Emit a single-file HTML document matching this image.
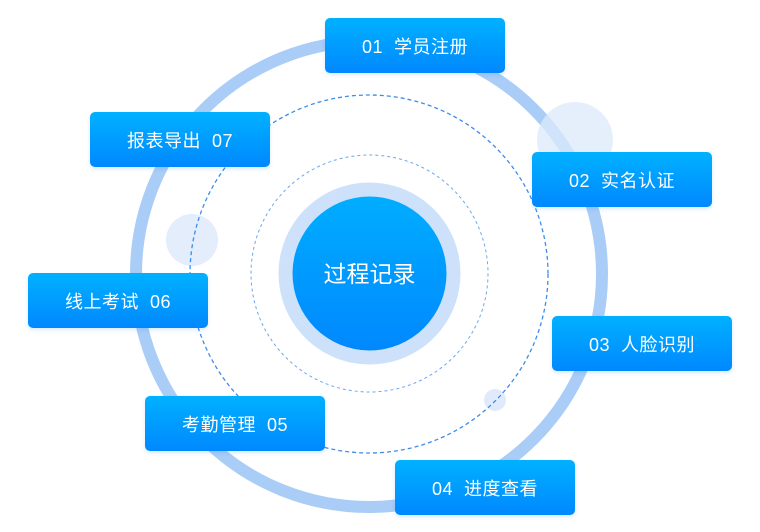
<!DOCTYPE html>
<html><head><meta charset="utf-8"><style>
body{margin:0;width:760px;height:532px;background:#fff;position:relative;overflow:hidden;font-family:"Liberation Sans","Noto Sans CJK SC",sans-serif}
.b{position:absolute;width:180px;height:55px;border-radius:5px;background:linear-gradient(#00b1ff,#0088ff);color:#fff;font-size:18px;display:flex;align-items:center;justify-content:center;letter-spacing:0.5px;box-shadow:0 2px 4px rgba(0,120,255,0.15)}
svg{position:absolute;left:0;top:0}
</style></head><body>
<svg width="760" height="532">
<circle cx="369" cy="274" r="233" fill="none" stroke="#a9cdf6" stroke-width="12"/>
<circle cx="575" cy="140" r="38" fill="#dce9fb" opacity="0.75"/>
<circle cx="192" cy="240" r="26" fill="#dce9fb" opacity="0.8"/>
<circle cx="495" cy="400" r="11" fill="#dce9fb" opacity="0.9"/>
<circle cx="369" cy="274" r="179" fill="none" stroke="#3d8cec" stroke-width="1.3" stroke-dasharray="4 3"/>
<circle cx="369.5" cy="273.5" r="118.5" fill="none" stroke="#6aa8f0" stroke-width="1" stroke-dasharray="3 3"/>
<circle cx="369.5" cy="273.5" r="91" fill="#cde2fa"/>
<defs><linearGradient id="g" x1="0" y1="0" x2="0" y2="1"><stop offset="0" stop-color="#00adff"/><stop offset="1" stop-color="#0088ff"/></linearGradient></defs>
<circle cx="369.5" cy="273.5" r="77" fill="url(#g)"/>
<text x="369.5" y="282" text-anchor="middle" fill="#fff" font-size="23" font-family="Liberation Sans, Noto Sans CJK SC, sans-serif">过程记录</text>
</svg>
<div class="b" style="left:325px;top:18px">01&nbsp; 学员注册</div>
<div class="b" style="left:90px;top:112px">报表导出&nbsp; 07</div>
<div class="b" style="left:532px;top:152px">02&nbsp; 实名认证</div>
<div class="b" style="left:28px;top:273px">线上考试&nbsp; 06</div>
<div class="b" style="left:552px;top:316px">03&nbsp; 人脸识别</div>
<div class="b" style="left:145px;top:396px">考勤管理&nbsp; 05</div>
<div class="b" style="left:395px;top:460px">04&nbsp; 进度查看</div>
</body></html>
